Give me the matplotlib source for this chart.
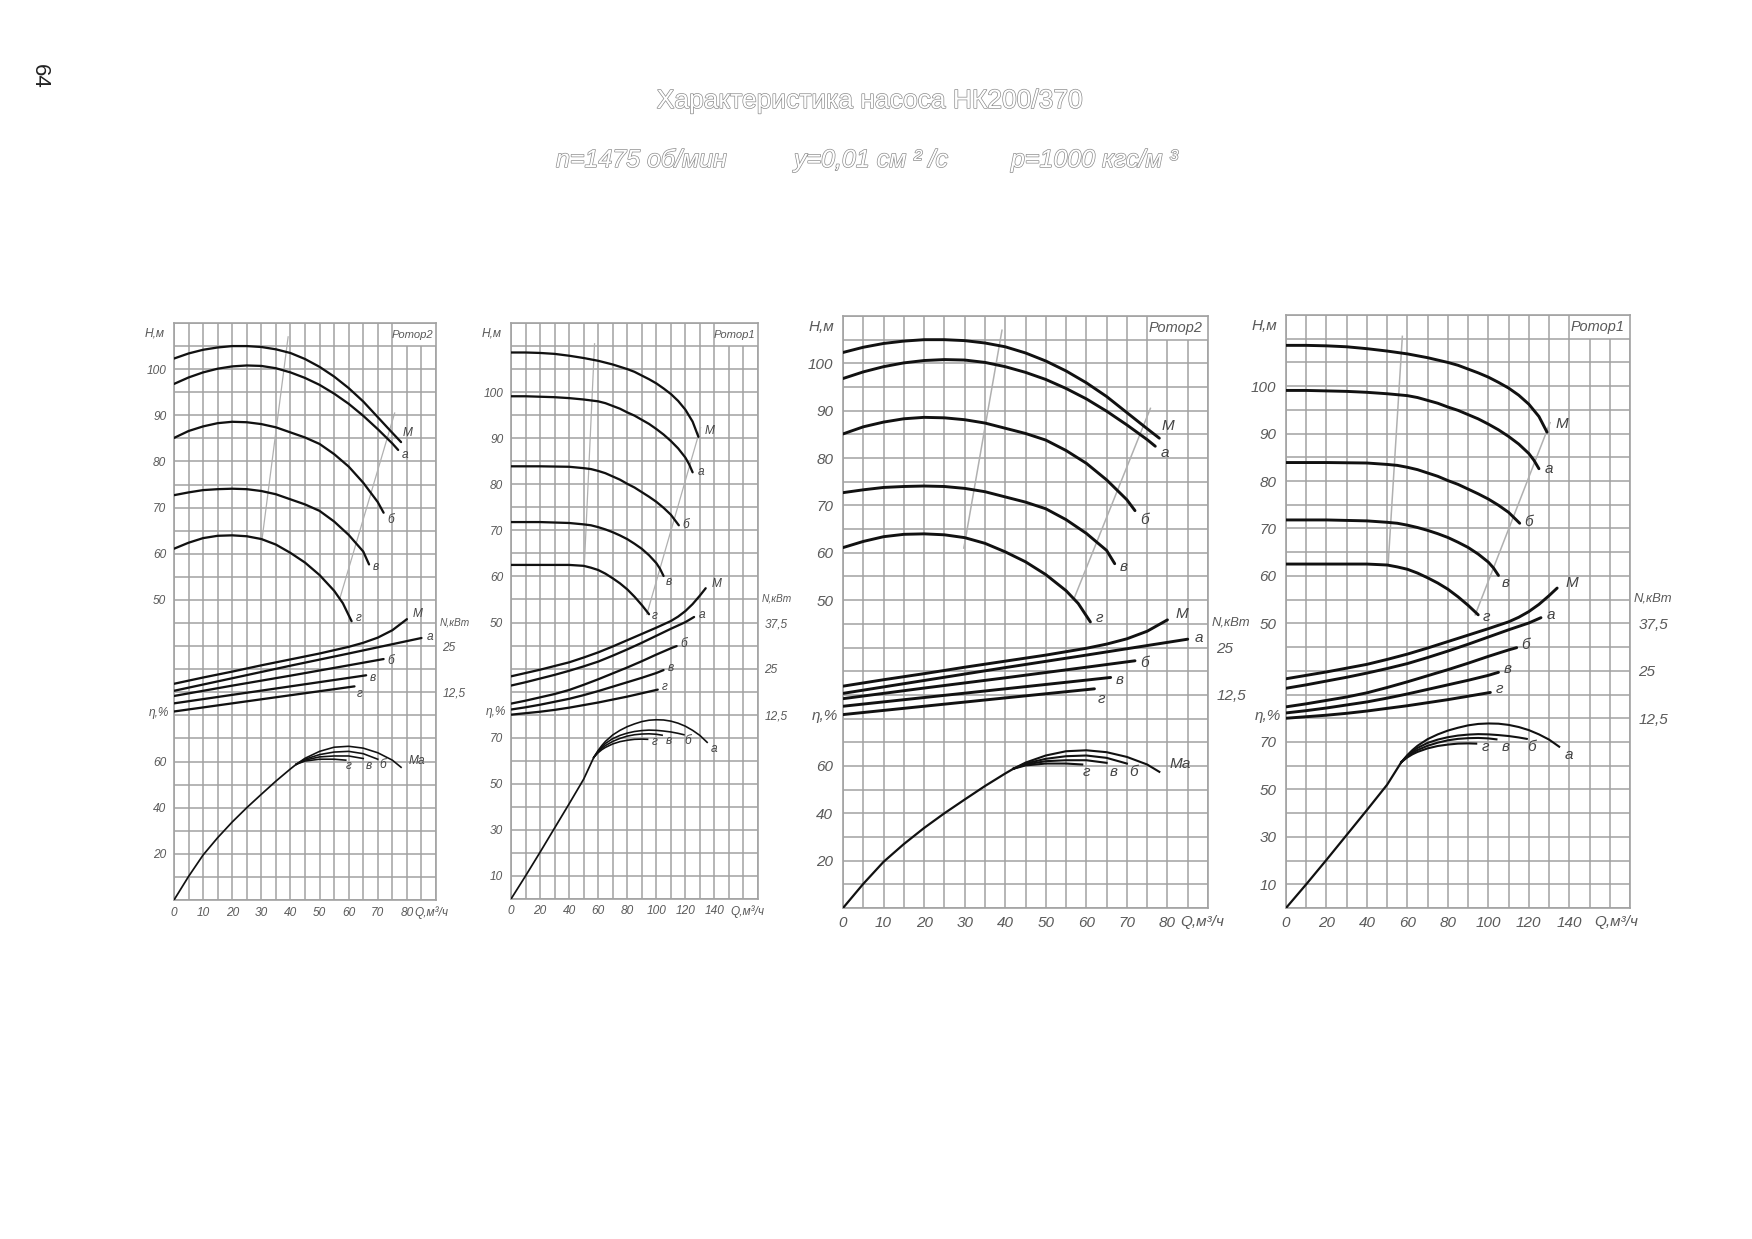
import numpy as np
import matplotlib
matplotlib.use("Agg")
import matplotlib.pyplot as plt
import matplotlib.patheffects as pe
from matplotlib import font_manager as fm

W, HPX, DPI = 1752, 1239, 100
avail = {f.name for f in fm.fontManager.ttflist}


def fam(*names):
    lst = [n for n in names if n in avail]
    if 'DejaVu Sans' not in lst:
        lst.append('DejaVu Sans')
    return lst


DRAW_FONT = fam('Liberation Sans Narrow', 'Liberation Sans')
TITLE_FONT = fam('Liberation Sans')
plt.rcParams['font.family'] = DRAW_FONT

# ------------------------------------------------------------------ text
title = 'Характеристика насоса НК200/370'
subtitle_parts = ['n=1475 об/мин', 'у=0,01 см ² /с', 'р=1000 кгс/м ³']
page_number = '64'

# ------------------------------------------------------------------ Ротор2 data
r2_HQ_M = [0, 5, 10, 15, 20, 25, 30, 35, 40, 45, 50, 55, 60, 65, 70, 75, 78]
r2_H_M = [102.3, 103.4, 104.2, 104.7, 105.0, 105.0, 104.8, 104.3, 103.5, 102.2, 100.5, 98.4, 95.9, 93.0, 89.6, 86.2, 84.2]
r2_HQ_a = [0, 5, 10, 15, 20, 25, 30, 35, 40, 45, 50, 55, 60, 65, 70, 75, 77]
r2_H_a = [96.8, 98.2, 99.3, 100.1, 100.6, 100.8, 100.7, 100.2, 99.3, 98.1, 96.6, 94.7, 92.5, 89.9, 87.0, 83.9, 82.5]
r2_HQ_b = [0, 5, 10, 15, 20, 25, 30, 35, 40, 45, 50, 55, 60, 65, 70, 72]
r2_H_b = [85.1, 86.6, 87.6, 88.3, 88.6, 88.5, 88.1, 87.4, 86.3, 85.2, 83.8, 81.6, 78.9, 75.4, 71.2, 68.9]
r2_HQ_v = [0, 5, 10, 15, 20, 25, 30, 35, 40, 45, 50, 55, 60, 65, 67]
r2_H_v = [72.7, 73.3, 73.8, 74.0, 74.1, 74.0, 73.6, 72.9, 71.8, 70.7, 69.3, 67.0, 64.1, 60.5, 57.7]
r2_HQ_g = [0, 5, 10, 15, 20, 25, 30, 35, 40, 45, 50, 55, 58, 61]
r2_H_g = [61.1, 62.4, 63.4, 63.9, 64.0, 63.8, 63.2, 62.0, 60.2, 58.1, 55.4, 52.0, 49.3, 45.4]

r2_NQ_M = [0, 10, 20, 30, 40, 50, 60, 65, 70, 75, 80]
r2_N_M = [14.8, 16.5, 18.1, 19.8, 21.4, 23.0, 24.8, 25.9, 27.3, 29.3, 32.3]
r2_NQ_a = [0, 20, 40, 60, 85]
r2_N_a = [12.9, 16.3, 19.7, 23.0, 27.2]
r2_NQ_b = [0, 20, 40, 60, 72]
r2_N_b = [11.5, 14.3, 17.0, 19.8, 21.5]
r2_NQ_v = [0, 20, 40, 60, 66]
r2_N_v = [9.5, 11.8, 14.1, 16.4, 17.1]
r2_NQ_g = [0, 20, 40, 62]
r2_N_g = [7.3, 9.5, 11.7, 14.1]

r2_EQ_rise = [0, 5, 10, 15, 20, 25, 30, 35, 40, 42]
r2_E_rise = [0, 10.2, 19.5, 27.0, 33.8, 40.0, 45.8, 51.5, 56.8, 58.8]
r2_EQ_Ma = [42, 45, 50, 55, 60, 65, 70, 75, 78]
r2_E_Ma = [58.8, 61.4, 64.4, 66.2, 66.6, 65.8, 63.8, 60.6, 57.5]
r2_EQ_b = [42, 45, 50, 55, 60, 65, 70]
r2_E_b = [58.8, 61.0, 63.0, 64.1, 64.4, 63.4, 61.0]
r2_EQ_v = [42, 45, 50, 55, 60, 65]
r2_E_v = [58.8, 60.6, 62.0, 62.4, 62.4, 61.3]
r2_EQ_g = [42, 45, 50, 55, 59]
r2_E_g = [58.8, 60.2, 61.0, 61.0, 60.6]

r2_lim_left_Q = [29.8, 39.2]
r2_lim_left_H = [61.0, 107.0]
r2_lim_right_Q = [57.0, 75.8]
r2_lim_right_H = [50.4, 90.5]

# ------------------------------------------------------------------ Ротор1 data
r1_HQ_M = [0, 10, 20, 30, 40, 50, 60, 70, 80, 85, 90, 95, 100, 105, 110, 115, 120, 125, 129]
r1_H_M = [108.6, 108.6, 108.5, 108.3, 107.9, 107.4, 106.8, 106.0, 105.0, 104.4, 103.6, 102.8, 101.9, 100.8, 99.6, 98.1, 96.2, 93.6, 90.3]
r1_HQ_a = [0, 10, 20, 30, 40, 50, 60, 65, 70, 75, 80, 85, 90, 95, 100, 105, 110, 115, 120, 122.5, 125]
r1_H_a = [99.1, 99.1, 99.0, 98.9, 98.7, 98.4, 98.0, 97.6, 97.0, 96.4, 95.6, 94.9, 94.0, 93.1, 92.0, 90.8, 89.4, 87.8, 85.8, 84.4, 82.6]
r1_HQ_b = [0, 20, 40, 50, 55, 60, 65, 70, 75, 80, 85, 90, 95, 100, 105, 110, 115.5]
r1_H_b = [83.9, 83.9, 83.8, 83.5, 83.3, 82.9, 82.4, 81.7, 81.0, 80.1, 79.3, 78.3, 77.3, 76.2, 74.9, 73.4, 71.1]
r1_HQ_v = [0, 20, 40, 50, 55, 60, 65, 70, 75, 80, 85, 90, 95, 100, 102.5, 105]
r1_H_v = [71.8, 71.8, 71.6, 71.3, 71.1, 70.7, 70.2, 69.6, 68.9, 68.1, 67.1, 66.0, 64.6, 62.9, 61.7, 60.1]
r1_HQ_g = [0, 20, 40, 45, 50, 55, 60, 65, 70, 75, 80, 85, 90, 95]
r1_H_g = [62.5, 62.5, 62.5, 62.4, 62.3, 61.9, 61.4, 60.6, 59.6, 58.5, 57.2, 55.6, 53.8, 51.8]

r1_NQ_M = [0, 10, 20, 30, 40, 50, 60, 70, 80, 90, 100, 105, 110, 115, 120, 125, 130, 134]
r1_N_M = [22.9, 23.8, 24.7, 25.7, 26.7, 28.0, 29.4, 31.0, 32.7, 34.4, 36.1, 37.0, 37.9, 39.1, 40.6, 42.5, 44.8, 46.8]
r1_NQ_a = [0, 10, 20, 30, 40, 50, 60, 70, 80, 90, 100, 110, 120, 126]
r1_N_a = [20.4, 21.3, 22.3, 23.3, 24.4, 25.6, 26.9, 28.5, 30.2, 32.0, 33.9, 35.8, 37.6, 39.0]
r1_NQ_b = [0, 10, 20, 30, 40, 50, 60, 70, 80, 90, 100, 110, 114]
r1_N_b = [15.5, 16.3, 17.2, 18.1, 19.2, 20.6, 22.1, 23.7, 25.3, 27.0, 28.8, 30.5, 31.1]
r1_NQ_v = [0, 10, 20, 30, 40, 50, 60, 70, 80, 90, 100, 105]
r1_N_v = [13.9, 14.5, 15.2, 16.0, 16.8, 17.8, 18.9, 20.1, 21.3, 22.5, 23.8, 24.6]
r1_NQ_g = [0, 10, 20, 30, 40, 50, 60, 70, 80, 90, 101]
r1_N_g = [12.5, 12.9, 13.3, 13.8, 14.4, 15.1, 15.8, 16.6, 17.4, 18.3, 19.3]

r1_EQ_rise = [0, 10, 20, 30, 40, 50, 57]
r1_E_rise = [0, 10.0, 20.3, 30.8, 41.3, 52.0, 61.5]
r1_EQ_a = [57, 60, 62.5, 65, 70, 75, 80, 85, 90, 95, 100, 105, 110, 115, 120, 125, 130, 135]
r1_E_a = [61.5, 64.5, 66.6, 68.4, 71.2, 73.2, 74.8, 76.0, 77.0, 77.6, 77.8, 77.7, 77.2, 76.3, 75.0, 73.2, 71.0, 68.0]
r1_EQ_b = [57, 60, 62.5, 65, 70, 75, 80, 85, 90, 95, 100, 105, 110, 115, 119]
r1_E_b = [61.5, 64.2, 66.0, 67.5, 69.6, 71.0, 72.0, 72.7, 73.1, 73.3, 73.2, 72.9, 72.5, 71.9, 71.3]
r1_EQ_v = [57, 60, 62.5, 65, 70, 75, 80, 85, 90, 95, 100, 104]
r1_E_v = [61.5, 63.9, 65.4, 66.6, 68.4, 69.7, 70.7, 71.3, 71.6, 71.7, 71.5, 71.1]
r1_EQ_g = [57, 60, 62.5, 65, 70, 75, 80, 85, 90, 94]
r1_E_g = [61.5, 63.5, 64.8, 65.8, 67.3, 68.3, 68.9, 69.3, 69.4, 69.3]

r1_lim_left_Q = [50.5, 57.5]
r1_lim_left_H = [62.6, 110.5]
r1_lim_right_Q = [93.5, 130.5]
r1_lim_right_H = [51.8, 92.3]

# ------------------------------------------------------------------ axis tick values
r2_Qticks = [0, 10, 20, 30, 40, 50, 60, 70, 80]
r1_Qticks = [0, 20, 40, 60, 80, 100, 120, 140]
H_ticks = [50, 60, 70, 80, 90, 100]
r2_E_ticks = [20, 40, 60]
r1_E_ticks = [10, 30, 50, 70]
r2_N_ticks = [12.5, 25]
r1_N_ticks = [12.5, 25, 37.5]

ROTOR2 = dict(
    name='Ротор2', xmax=90, dx=5, Hlim=(-15, 110), Nlim=(-43.75, 112.5), Nlab=31.5,
    Qticks=r2_Qticks, Qlab=88.5, Eticks=r2_E_ticks, Nticks=r2_N_ticks,
    H=[(r2_HQ_M, r2_H_M, 'М', (2, 12)), (r2_HQ_a, r2_H_a, 'а', (5, -7)),
       (r2_HQ_b, r2_H_b, 'б', (5, -9)), (r2_HQ_v, r2_H_v, 'в', (5, -3)),
       (r2_HQ_g, r2_H_g, 'г', (5, 4))],
    N=[(r2_NQ_M, r2_N_M, 'М', (8, 6)), (r2_NQ_a, r2_N_a, 'а', (7, 1)),
       (r2_NQ_b, r2_N_b, 'б', (5, -2)), (r2_NQ_v, r2_N_v, 'в', (5, -3)),
       (r2_NQ_g, r2_N_g, 'г', (3, -10))],
    Erise=(r2_EQ_rise, r2_E_rise),
    E=[(r2_EQ_Ma, r2_E_Ma, 'Ма', (10, 8)), (r2_EQ_b, r2_E_b, 'б', (2, -8)),
       (r2_EQ_v, r2_E_v, 'в', (3, -9)), (r2_EQ_g, r2_E_g, 'г', (0, -8))],
    lims=[(r2_lim_left_Q, r2_lim_left_H), (r2_lim_right_Q, r2_lim_right_H)],
)
ROTOR1 = dict(
    name='Ротор1', xmax=170, dx=10, Hlim=(-10, 115), Nlim=(-37.5, 118.75), Nlab=44.0,
    Qticks=r1_Qticks, Qlab=163, Eticks=r1_E_ticks, Nticks=r1_N_ticks,
    H=[(r1_HQ_M, r1_H_M, 'М', (8, 8)), (r1_HQ_a, r1_H_a, 'а', (6, 0)),
       (r1_HQ_b, r1_H_b, 'б', (5, 1)), (r1_HQ_v, r1_H_v, 'в', (3, -8)),
       (r1_HQ_g, r1_H_g, 'г', (4, -2))],
    N=[(r1_NQ_M, r1_N_M, 'М', (8, 5)), (r1_NQ_a, r1_N_a, 'а', (6, 3)),
       (r1_NQ_b, r1_N_b, 'б', (5, 3)), (r1_NQ_v, r1_N_v, 'в', (5, 3)),
       (r1_NQ_g, r1_N_g, 'г', (5, 3))],
    Erise=(r1_EQ_rise, r1_E_rise),
    E=[(r1_EQ_a, r1_E_a, 'а', (5, -8)), (r1_EQ_b, r1_E_b, 'б', (0, -8)),
       (r1_EQ_v, r1_E_v, 'в', (5, -8)), (r1_EQ_g, r1_E_g, 'г', (5, -3))],
    lims=[(r1_lim_left_Q, r1_lim_left_H), (r1_lim_right_Q, r1_lim_right_H)],
)

# ------------------------------------------------------------------ figure
fig = plt.figure(figsize=(W / DPI, HPX / DPI), dpi=DPI)
fig.patch.set_facecolor('white')

GRID = '#a2a2a2'
TXT = '#5a5a5a'
INK = '#111111'


def rect_px(l, r, t, b):
    return [l / W, 1 - b / HPX, (r - l) / W, (b - t) / HPX]


def pt(px):
    return px * 72.0 / DPI


def fmt(v):
    return ('%g' % v).replace('.', ',')


def draw_panel(rect, d, sc):
    fs = 11 * sc
    ax = fig.add_axes(rect)
    axN = ax.twinx()
    axE = fig.add_axes(rect, sharex=ax, frameon=False)
    axE.patch.set_visible(False)
    xmax, dx = d['xmax'], d['dx']
    h0, h1 = d['Hlim']
    ax.set_xlim(0, xmax)
    ax.set_ylim(h0, h1)
    axN.set_ylim(*d['Nlim'])
    axE.set_ylim(0, 250)
    for s in ax.spines.values():
        s.set_color(GRID)
        s.set_linewidth(1.2)
    for s in axN.spines.values():
        s.set_visible(False)

    # grid
    for y in np.arange(h0, h1 + 0.01, 5):
        ax.axhline(y, color=GRID, lw=1.1, zorder=0)
    for x in np.arange(0, xmax + 0.01, dx):
        top = h1 if x <= xmax - 3 * dx + 0.01 else h1 - 5
        ax.vlines(x, h0, top, color=GRID, lw=1.1, zorder=0)
    ax.text(xmax - 1.6 * dx, h1 - 2.5, d['name'], ha='center', va='center',
            fontsize=fs * 0.95, fontstyle='italic', color=TXT)

    # ticks
    ax.set_xticks(d['Qticks'], labels=[str(v) for v in d['Qticks']],
                  fontstyle='italic')
    ax.tick_params(axis='x', length=0, pad=6 * sc, labelsize=fs, labelcolor=TXT)
    ax.set_yticks(H_ticks, labels=[str(v) for v in H_ticks], fontstyle='italic')
    ax.tick_params(axis='y', length=0, pad=7 * sc, labelsize=fs, labelcolor=TXT)
    axE.yaxis.tick_left()
    axE.set_yticks(d['Eticks'], labels=[str(v) for v in d['Eticks']],
                   fontstyle='italic')
    axE.tick_params(axis='y', length=0, pad=7 * sc, labelsize=fs, labelcolor=TXT)
    axE.tick_params(axis='x', bottom=False, labelbottom=False)
    axN.set_yticks(d['Nticks'], labels=[fmt(v) for v in d['Nticks']],
                   fontstyle='italic')
    axN.tick_params(axis='y', length=0, pad=6 * sc, labelsize=fs, labelcolor=TXT)

    # axis names
    ax.annotate('H,м', xy=(0, 1), xycoords='axes fraction', xytext=(-pt(9), -pt(4)),
                textcoords='offset points', ha='right', va='top', fontsize=fs,
                fontstyle='italic', color=TXT)
    axE.annotate('η,%', xy=(0, 81), xycoords=('axes fraction', 'data'),
                 xytext=(-pt(5), 0), textcoords='offset points', ha='right',
                 va='center', fontsize=fs, fontstyle='italic', color=TXT)
    axN.annotate('N,кВт', xy=(1, d['Nlab']), xycoords=('axes fraction', 'data'),
                 xytext=(pt(4), 0), textcoords='offset points', ha='left',
                 va='center', fontsize=fs * 0.85, fontstyle='italic', color=TXT)
    ax.annotate('Q,м³/ч', xy=(d['Qlab'], 0), xycoords=('data', 'axes fraction'),
                xytext=(0, -pt(6 * sc) - 1), textcoords='offset points', ha='center',
                va='top', fontsize=fs, fontstyle='italic', color=TXT)

    # operating range lines
    for q, h in d['lims']:
        ax.plot(q, h, color='#b0b0b0', lw=0.9 * sc + 0.2, zorder=1)

    # head curves
    for q, v, lab, off in d['H']:
        ax.plot(q, v, color=INK, lw=2.1 * sc, zorder=3, solid_capstyle='round',
                solid_joinstyle='round')
        ax.annotate(lab, (q[-1], v[-1]), xytext=(pt(off[0] * sc), pt(off[1] * sc)),
                    textcoords='offset points', ha='left', va='center',
                    fontsize=fs, fontstyle='italic', color='#444')
    # power curves
    for q, v, lab, off in d['N']:
        axN.plot(q, v, color=INK, lw=2.1 * sc, zorder=3, solid_capstyle='round',
                 solid_joinstyle='round')
        axN.annotate(lab, (q[-1], v[-1]), xytext=(pt(off[0] * sc), pt(off[1] * sc)),
                     textcoords='offset points', ha='left', va='center',
                     fontsize=fs, fontstyle='italic', color='#444')
    # efficiency curves
    qr, er = d['Erise']
    axE.plot(qr, er, color=INK, lw=1.6 * sc, zorder=3, solid_joinstyle='round')
    for q, v, lab, off in d['E']:
        axE.plot(q, v, color=INK, lw=1.5 * sc, zorder=3, solid_joinstyle='round')
        axE.annotate(lab, (q[-1], v[-1]), xytext=(pt(off[0] * sc), pt(off[1] * sc)),
                     textcoords='offset points', ha='left', va='center',
                     fontsize=fs, fontstyle='italic', color='#444')


draw_panel(rect_px(174, 436, 323, 900), ROTOR2, 0.78)
draw_panel(rect_px(511, 758, 323, 899), ROTOR1, 0.78)
draw_panel(rect_px(843, 1208, 316, 908), ROTOR2, 1.0)
draw_panel(rect_px(1286, 1630, 315, 908), ROTOR1, 1.0)

# ------------------------------------------------------------------ titles
outline = [pe.withStroke(linewidth=1.0, foreground='#8c8c8c')]
fig.text(870 / W, 1 - 101 / HPX, title, ha='center', va='center', fontsize=19,
         color='white', family=TITLE_FONT, path_effects=outline)
for txt, x0 in zip(subtitle_parts, [556, 794, 1011]):
    fig.text(x0 / W, 1 - 160 / HPX, txt, ha='left', va='center', fontsize=18,
             fontstyle='italic', color='white', family=TITLE_FONT,
             path_effects=outline)
fig.text(39 / W, 1 - 76 / HPX, page_number, ha='center', va='center', rotation=-90,
         fontsize=16, color='#222222', family=TITLE_FONT)

fig.savefig('out.png', dpi=DPI, facecolor='white')
